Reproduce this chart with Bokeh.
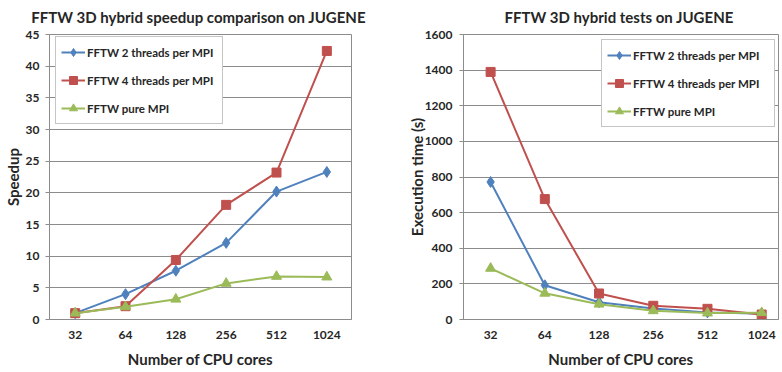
from bokeh.plotting import figure
from bokeh.layouts import row
from bokeh.models import Range1d, FixedTicker, Legend, LegendItem, LinearAxis
from bokeh.embed import file_html
from bokeh.resources import INLINE

# CPU core counts (categories on the x axis)
cores = ["32", "64", "128", "256", "512", "1024"]

# Speedup relative to 32 cores
speedup_2thr = [1.0, 4.0, 7.7, 12.1, 20.2, 23.3]
speedup_4thr = [1.0, 2.1, 9.4, 18.1, 23.2, 42.4]
speedup_pure = [1.0, 2.0, 3.2, 5.7, 6.8, 6.7]

# Execution time in seconds
time_2thr = [772, 192, 97, 62, 40, 32]
time_4thr = [1390, 676, 146, 77, 60, 28]
time_pure = [287, 147, 86, 49, 36, 38]

series_names = ["FFTW 2 threads per MPI", "FFTW 4 threads per MPI", "FFTW pure MPI"]
series_colors = ["#4F81BD", "#C0504D", "#9BBB59"]
series_markers = ["diamond", "square", "triangle"]
marker_sizes = [11, 9, 10]

FONT = "Lato"
TEXT = "#262626"
GRID = "#8C8C8C"


def style_text(obj, prefix, size):
    setattr(obj, prefix + "_text_font", FONT)
    setattr(obj, prefix + "_text_font_size", size)
    setattr(obj, prefix + "_text_font_style", "bold")
    setattr(obj, prefix + "_text_color", TEXT)


def make_chart(title, ylabel, ymax, ystep, series, width, borders, xrange,
               legend_loc, legend_label_w, ytick_standoff, ylabel_standoff):
    bl, br, bt, bb = borders
    xs = list(range(len(cores)))
    p = figure(width=width, height=372, output_backend="svg", toolbar_location=None,
               x_range=Range1d(*xrange), y_range=Range1d(0, ymax),
               min_border_left=bl, min_border_right=br,
               min_border_top=bt, min_border_bottom=bb)

    # Chart title carried by a bare axis above the frame, centred on it.
    head = LinearAxis(ticker=FixedTicker(ticks=[]), axis_label=title,
                      axis_line_color=None, major_tick_line_color=None,
                      minor_tick_line_color=None, major_label_standoff=0,
                      major_tick_out=0, major_tick_in=0, axis_label_standoff=9)
    style_text(head, "axis_label", "15px")
    p.add_layout(head, "above")

    p.background_fill_color = "white"
    p.border_fill_color = "white"
    p.outline_line_color = GRID
    p.outline_line_width = 1

    p.xgrid.grid_line_color = None
    p.ygrid.grid_line_color = GRID
    p.ygrid.grid_line_width = 1

    xaxis, yaxis = p.below[0], p.left[0]
    xaxis.ticker = FixedTicker(ticks=xs)
    xaxis.major_label_overrides = {i: c for i, c in zip(xs, cores)}
    yaxis.ticker = FixedTicker(ticks=list(range(0, ymax + 1, ystep)))

    for ax in (xaxis, yaxis):
        ax.axis_line_color = GRID
        ax.minor_tick_line_color = None
        ax.major_tick_in = 0
        style_text(ax, "major_label", "12px")
        style_text(ax, "axis_label", "15px")
        ax.axis_label_text_line_height = 1.0

    xaxis.major_tick_line_color = None
    xaxis.major_tick_out = 0
    yaxis.major_tick_line_color = GRID
    yaxis.major_tick_out = 4

    xaxis.axis_label = "Number of CPU cores"
    xaxis.major_label_standoff = 11
    xaxis.axis_label_standoff = 8
    yaxis.axis_label = ylabel
    yaxis.major_label_standoff = ytick_standoff
    yaxis.axis_label_standoff = ylabel_standoff

    items = []
    for name, vals, col, mk, ms in zip(series_names, series, series_colors,
                                       series_markers, marker_sizes):
        ln = p.line(xs, vals, line_color=col, line_width=2)
        sc = p.scatter(xs, vals, marker=mk, size=ms, fill_color=col, line_color=col)
        items.append(LegendItem(label=name, renderers=[ln, sc]))

    leg = Legend(items=items, location=legend_loc)
    style_text(leg, "label", "11.5px")
    leg.label_height = 20
    leg.glyph_height = 20
    leg.glyph_width = 24
    leg.label_standoff = 2
    leg.label_width = legend_label_w
    leg.spacing = 8
    leg.padding = 5
    leg.margin = 0
    leg.border_line_color = GRID
    leg.border_line_width = 1
    leg.background_fill_color = "white"
    leg.background_fill_alpha = 1
    p.add_layout(leg)
    return p


left = make_chart("FFTW 3D hybrid  speedup comparison on JUGENE", "Speedup", 45, 5,
                  [speedup_2thr, speedup_4thr, speedup_pure], 390,
                  (46, 39, 34, 50), (-0.51, 5.49), (6, 195), 130, 6, 1)
right = make_chart("FFTW 3D hybrid  tests on JUGENE", "Execution time (s)", 1600, 200,
                   [time_2thr, time_4thr, time_pure], 392,
                   (73, 4, 34, 53), (-0.5, 5.31), (138, 192), 136, 7, -4)

layout = row(left, right, spacing=0)
open("out.html", "w").write(file_html(layout, INLINE))
